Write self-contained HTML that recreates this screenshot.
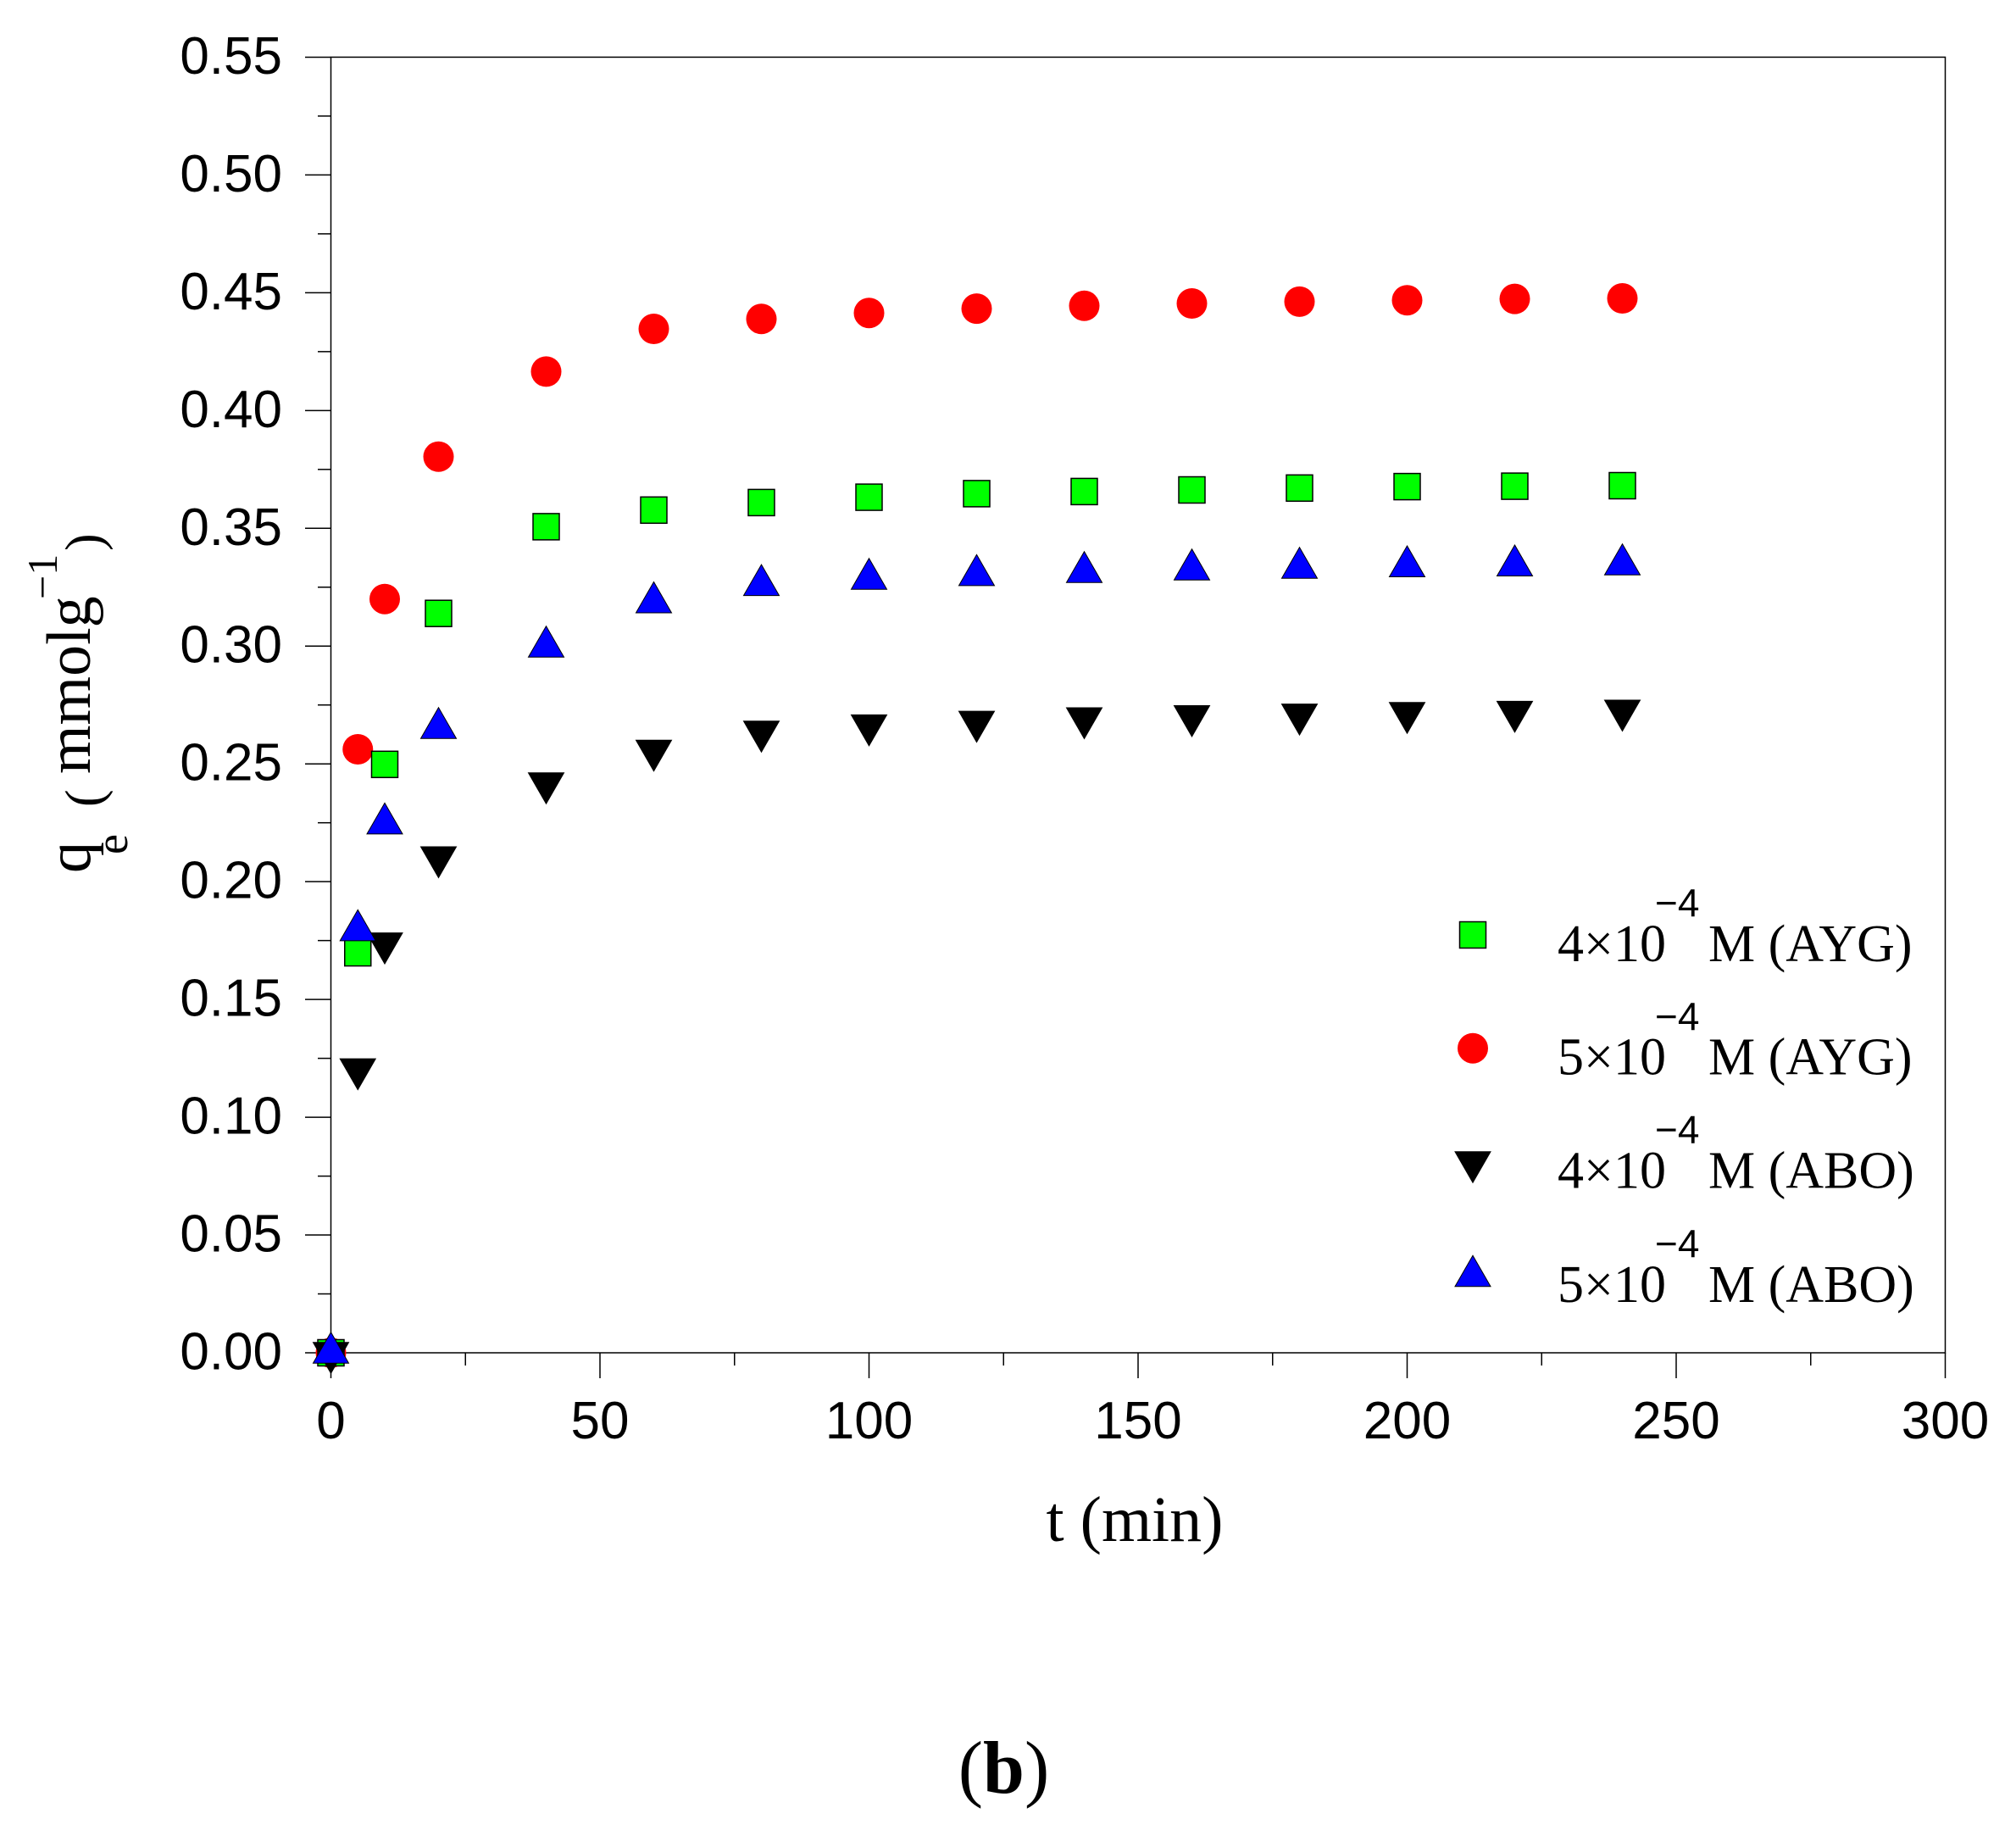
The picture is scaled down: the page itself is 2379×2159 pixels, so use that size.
<!DOCTYPE html>
<html>
<head>
<meta charset="utf-8">
<style>
  html,body{margin:0;padding:0;background:#fff;}
  svg{display:block;}
  .tk{font-family:"Liberation Sans",Arial,sans-serif;font-size:62px;fill:#000;}
  .sr{font-family:"Liberation Serif","Times New Roman",serif;fill:#000;}
</style>
</head>
<body>
<svg width="2379" height="2159" viewBox="0 0 2379 2159" xmlns="http://www.w3.org/2000/svg">
  <defs>
    <rect id="sq" x="-15.5" y="-15.5" width="31" height="31" fill="#00ff00" stroke="#000" stroke-width="1.5"/>
    <circle id="ci" cx="0" cy="0" r="18" fill="#ff0000"/>
    <polygon id="dn" points="-21,-18.25 21,-18.25 0,18.25" fill="#000" stroke="#000" stroke-width="1"/>
    <polygon id="up" points="0,-18.25 -21,18.25 21,18.25" fill="#0000ff" stroke="#000" stroke-width="1"/>
  </defs>
  <rect width="2379" height="2159" fill="#fff"/>

  <!-- plot frame -->
  <rect x="390.5" y="67.44" width="1905" height="1528.56" fill="none" stroke="#000" stroke-width="1.5"/>

  <!-- y ticks -->
  <g stroke="#000" stroke-width="1.5">
    <line x1="360" y1="1596" x2="390.5" y2="1596"/>
    <line x1="360" y1="1457.04" x2="390.5" y2="1457.04"/>
    <line x1="360" y1="1318.08" x2="390.5" y2="1318.08"/>
    <line x1="360" y1="1179.12" x2="390.5" y2="1179.12"/>
    <line x1="360" y1="1040.16" x2="390.5" y2="1040.16"/>
    <line x1="360" y1="901.2" x2="390.5" y2="901.2"/>
    <line x1="360" y1="762.24" x2="390.5" y2="762.24"/>
    <line x1="360" y1="623.28" x2="390.5" y2="623.28"/>
    <line x1="360" y1="484.32" x2="390.5" y2="484.32"/>
    <line x1="360" y1="345.36" x2="390.5" y2="345.36"/>
    <line x1="360" y1="206.4" x2="390.5" y2="206.4"/>
    <line x1="360" y1="67.44" x2="390.5" y2="67.44"/>
    <line x1="375" y1="1526.52" x2="390.5" y2="1526.52"/>
    <line x1="375" y1="1387.56" x2="390.5" y2="1387.56"/>
    <line x1="375" y1="1248.6" x2="390.5" y2="1248.6"/>
    <line x1="375" y1="1109.64" x2="390.5" y2="1109.64"/>
    <line x1="375" y1="970.68" x2="390.5" y2="970.68"/>
    <line x1="375" y1="831.72" x2="390.5" y2="831.72"/>
    <line x1="375" y1="692.76" x2="390.5" y2="692.76"/>
    <line x1="375" y1="553.8" x2="390.5" y2="553.8"/>
    <line x1="375" y1="414.84" x2="390.5" y2="414.84"/>
    <line x1="375" y1="275.88" x2="390.5" y2="275.88"/>
    <line x1="375" y1="136.92" x2="390.5" y2="136.92"/>
  </g>
  <!-- x ticks -->
  <g stroke="#000" stroke-width="1.5">
    <line x1="390.5" y1="1596" x2="390.5" y2="1626"/>
    <line x1="708" y1="1596" x2="708" y2="1626"/>
    <line x1="1025.5" y1="1596" x2="1025.5" y2="1626"/>
    <line x1="1343" y1="1596" x2="1343" y2="1626"/>
    <line x1="1660.5" y1="1596" x2="1660.5" y2="1626"/>
    <line x1="1978" y1="1596" x2="1978" y2="1626"/>
    <line x1="2295.5" y1="1596" x2="2295.5" y2="1626"/>
    <line x1="549.25" y1="1596" x2="549.25" y2="1611"/>
    <line x1="866.75" y1="1596" x2="866.75" y2="1611"/>
    <line x1="1184.25" y1="1596" x2="1184.25" y2="1611"/>
    <line x1="1501.75" y1="1596" x2="1501.75" y2="1611"/>
    <line x1="1819.25" y1="1596" x2="1819.25" y2="1611"/>
    <line x1="2136.75" y1="1596" x2="2136.75" y2="1611"/>
  </g>

  <!-- y tick labels -->
  <g class="tk" text-anchor="end">
    <text x="333" y="1615.5">0.00</text>
    <text x="333" y="1476.5">0.05</text>
    <text x="333" y="1337.6">0.10</text>
    <text x="333" y="1198.6">0.15</text>
    <text x="333" y="1059.7">0.20</text>
    <text x="333" y="920.7">0.25</text>
    <text x="333" y="781.7">0.30</text>
    <text x="333" y="642.8">0.35</text>
    <text x="333" y="503.8">0.40</text>
    <text x="333" y="364.9">0.45</text>
    <text x="333" y="225.9">0.50</text>
    <text x="333" y="86.9">0.55</text>
  </g>
  <!-- x tick labels -->
  <g class="tk" text-anchor="middle">
    <text x="390.5" y="1697">0</text>
    <text x="708" y="1697">50</text>
    <text x="1025.5" y="1697">100</text>
    <text x="1343" y="1697">150</text>
    <text x="1660.5" y="1697">200</text>
    <text x="1978" y="1697">250</text>
    <text x="2295.5" y="1697">300</text>
  </g>

  <!-- axis titles -->
  <text class="sr" x="1339" y="1818" font-size="76" text-anchor="middle">t (min)</text>
  <g transform="translate(106,1030) rotate(-90)" class="sr">
    <text x="0" y="0" font-size="74">q</text>
    <text x="22" y="44" font-size="54">e</text>
    <text x="78" y="14" font-size="62">(</text>
    <text x="117" y="0" font-size="74">mmolg</text>
    <text x="323" y="-39" font-size="50">−1</text>
    <text x="380" y="14" font-size="62">)</text>
  </g>

  <!-- (b) -->
  <text class="sr" x="1184.5" y="2115" font-size="88" text-anchor="middle">(<tspan font-weight="bold">b</tspan>)</text>

  <!-- data: red circles -->
  <g>
    <use href="#ci" x="390.5" y="1596"/>
    <use href="#ci" x="422.25" y="884"/>
    <use href="#ci" x="454" y="706.7"/>
    <use href="#ci" x="517.5" y="538.8"/>
    <use href="#ci" x="644.5" y="438.4"/>
    <use href="#ci" x="771.5" y="388"/>
    <use href="#ci" x="898.5" y="376.3"/>
    <use href="#ci" x="1025.5" y="369.2"/>
    <use href="#ci" x="1152.5" y="364.1"/>
    <use href="#ci" x="1279.5" y="360.8"/>
    <use href="#ci" x="1406.5" y="358"/>
    <use href="#ci" x="1533.5" y="355.9"/>
    <use href="#ci" x="1660.5" y="354.2"/>
    <use href="#ci" x="1787.5" y="352.6"/>
    <use href="#ci" x="1914.5" y="352"/>
  </g>
  <!-- green squares -->
  <g>
    <use href="#sq" x="390.5" y="1596"/>
    <use href="#sq" x="422.25" y="1124.1"/>
    <use href="#sq" x="454" y="901.8"/>
    <use href="#sq" x="517.5" y="723.7"/>
    <use href="#sq" x="644.5" y="621.4"/>
    <use href="#sq" x="771.5" y="601.8"/>
    <use href="#sq" x="898.5" y="592.9"/>
    <use href="#sq" x="1025.5" y="586.6"/>
    <use href="#sq" x="1152.5" y="582.4"/>
    <use href="#sq" x="1279.5" y="579.9"/>
    <use href="#sq" x="1406.5" y="578"/>
    <use href="#sq" x="1533.5" y="575.8"/>
    <use href="#sq" x="1660.5" y="574.1"/>
    <use href="#sq" x="1787.5" y="573.6"/>
    <use href="#sq" x="1914.5" y="573"/>
  </g>
  <!-- black down triangles -->
  <g>
    <use href="#dn" x="390.5" y="1602"/>
    <use href="#dn" x="422.25" y="1267.4"/>
    <use href="#dn" x="454" y="1118.9"/>
    <use href="#dn" x="517.5" y="1017.2"/>
    <use href="#dn" x="644.5" y="930"/>
    <use href="#dn" x="771.5" y="891.5"/>
    <use href="#dn" x="898.5" y="869"/>
    <use href="#dn" x="1025.5" y="861.6"/>
    <use href="#dn" x="1152.5" y="857.4"/>
    <use href="#dn" x="1279.5" y="853.3"/>
    <use href="#dn" x="1406.5" y="850.8"/>
    <use href="#dn" x="1533.5" y="848.9"/>
    <use href="#dn" x="1660.5" y="847"/>
    <use href="#dn" x="1787.5" y="845.6"/>
    <use href="#dn" x="1914.5" y="844.2"/>
  </g>
  <!-- blue up triangles -->
  <g>
    <use href="#up" x="390.5" y="1590"/>
    <use href="#up" x="422.25" y="1091.6"/>
    <use href="#up" x="454" y="965.6"/>
    <use href="#up" x="517.5" y="853"/>
    <use href="#up" x="644.5" y="757"/>
    <use href="#up" x="771.5" y="704.7"/>
    <use href="#up" x="898.5" y="684.4"/>
    <use href="#up" x="1025.5" y="677"/>
    <use href="#up" x="1152.5" y="672.6"/>
    <use href="#up" x="1279.5" y="669"/>
    <use href="#up" x="1406.5" y="666"/>
    <use href="#up" x="1533.5" y="664"/>
    <use href="#up" x="1660.5" y="662.2"/>
    <use href="#up" x="1787.5" y="661.3"/>
    <use href="#up" x="1914.5" y="660"/>
  </g>

  <!-- legend -->
  <use href="#sq" x="1738" y="1103"/>
  <use href="#ci" x="1738" y="1236.7"/>
  <use href="#dn" x="1738" y="1377"/>
  <use href="#up" x="1738" y="1499.5"/>

  <g class="sr" font-size="62">
    <text x="1838" y="1134">4×10</text>
    <text x="2016" y="1134">M (AYG)</text>
    <text x="1838" y="1267.5">5×10</text>
    <text x="2016" y="1267.5">M (AYG)</text>
    <text x="1838" y="1401.5">4×10</text>
    <text x="2016" y="1401.5">M (ABO)</text>
    <text x="1838" y="1536">5×10</text>
    <text x="2016" y="1536">M (ABO)</text>
  </g>
  <g font-family="Liberation Sans, Arial, sans-serif" font-size="46" fill="#000">
    <text x="1953" y="1081">−4</text>
    <text x="1953" y="1215">−4</text>
    <text x="1953" y="1348.5">−4</text>
    <text x="1953" y="1483">−4</text>
  </g>
</svg>
</body>
</html>
